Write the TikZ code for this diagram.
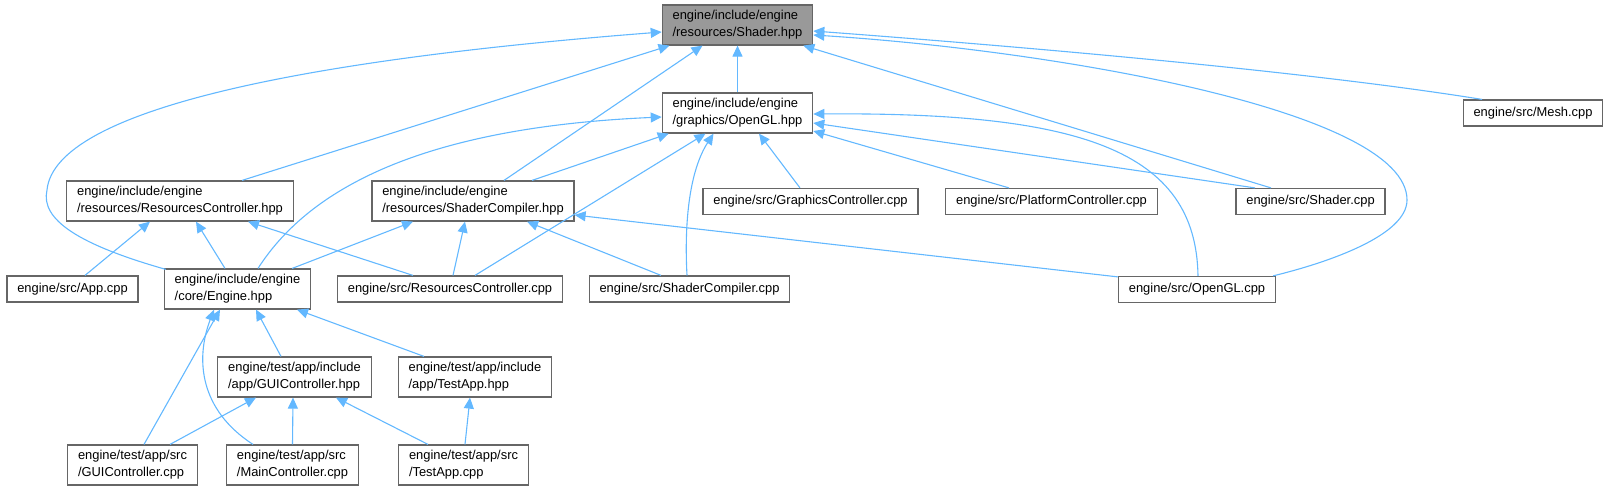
\documentclass[tikz,border=0pt]{standalone}
\usepackage{fontspec}
\setmainfont{Liberation Sans}
\usepackage{tikz}
\usetikzlibrary{arrows.meta,calc}
\definecolor{edgeblue}{HTML}{63B8FF}
\definecolor{boxline}{HTML}{666666}
\definecolor{curfill}{HTML}{999999}

\begin{document}
\begin{tikzpicture}[x=1pt,y=-1pt,
    file/.style={draw=boxline, line width=1.2pt, fill=white, align=left,
      font=\fontsize{12.9}{17}\selectfont, inner xsep=10.3pt, inner ysep=3pt,
      minimum height=26pt},
    twoline/.style={file, minimum height=40pt},
    dep/.style={draw=edgeblue, line width=1.1pt, -{Triangle[length=11pt,width=10pt]}}]
    \useasboundingbox (0,0) rectangle (1611,491);
    % Header under study
    \node[twoline, fill=curfill] (sh) at (737.5,25) {engine/include/engine\\/resources/Shader.hpp};
    % Second row
    \node[twoline] (ogl) at (737.5,113) {engine/include/engine\\/graphics/OpenGL.hpp};
    \node[file] (mesh) at (1533,113) {engine/src/Mesh.cpp};
    % Third row
    \node[twoline] (rch) at (180,201) {engine/include/engine\\/resources/ResourcesController.hpp};
    \node[twoline] (sch) at (473,201) {engine/include/engine\\/resources/ShaderCompiler.hpp};
    \node[file] (gfx) at (810.5,201.5) {engine/src/GraphicsController.cpp};
    \node[file] (plat) at (1051.5,201.5) {engine/src/PlatformController.cpp};
    \node[file] (shc) at (1310.5,201.5) {engine/src/Shader.cpp};
    % Fourth row
    \node[file] (app) at (72.5,289) {engine/src/App.cpp};
    \node[twoline] (eng) at (237.5,289) {engine/include/engine\\/core/Engine.hpp};
    \node[file] (rcc) at (450,289) {engine/src/ResourcesController.cpp};
    \node[file] (scc) at (689.5,289) {engine/src/ShaderCompiler.cpp};
    \node[file] (oglc) at (1197,289.5) {engine/src/OpenGL.cpp};
    % Test app headers
    \node[twoline] (guih) at (294.5,377) {engine/test/app/include\\/app/GUIController.hpp};
    \node[twoline] (tah) at (475,377) {engine/test/app/include\\/app/TestApp.hpp};
    % Test app sources
    \node[twoline] (guic) at (132.5,465) {engine/test/app/src\\/GUIController.cpp};
    \node[twoline] (mainc) at (292.5,465) {engine/test/app/src\\/MainController.cpp};
    \node[twoline] (tac) at (463.5,465) {engine/test/app/src\\/TestApp.cpp};

    % Includes of Shader.hpp
    \draw[dep] (ogl.north) -- (sh.south);
    \draw[dep] ($(rch.north)+(62,0)$) -- ($(sh.south)+(-68,0)$);
    \draw[dep] ($(sch.north)+(31,0)$) -- ($(sh.south)+(-35,0)$);
    \draw[dep] ($(eng.north west)+(2,1)$) .. controls (80,245) and (40,220) .. (47,190)
      .. controls (55,110) and (300,60) .. ($(sh.west)+(0,7)$);
    \draw[dep] ($(mesh.north)+(-51,0)$) .. controls (1300,70) and (1000,45) .. ($(sh.east)+(0,6)$);
    \draw[dep] ($(shc.north)+(-39.5,0)$) -- ($(sh.south east)+(-10,0)$);
    \draw[dep] ($(oglc.north east)+(-3,0)$) .. controls (1330,262) and (1407,235) .. (1407,200)
      .. controls (1407,110) and (1050,50) .. ($(sh.east)+(0,10)$);
    % Includes of OpenGL.hpp
    \draw[dep] ($(eng.north)+(20.5,0)$) .. controls (305,195) and (410,128) .. ($(ogl.west)+(0,4)$);
    \draw[dep] ($(sch.north)+(59,0)$) -- ($(ogl.south west)+(7,0)$);
    \draw[dep] ($(rcc.north)+(25,0)$) -- ($(ogl.south)+(-32,0)$);
    \draw[dep] ($(scc.north)+(-2.5,0)$) .. controls (684,220) and (690,170) .. ($(ogl.south)+(-24,0)$);
    \draw[dep] ($(gfx.north)+(-10.5,0)$) -- ($(ogl.south)+(21.5,0)$);
    \draw[dep] ($(plat.north)+(-42.5,0)$) -- ($(ogl.east)+(0,18)$);
    \draw[dep] ($(shc.north)+(-55.5,0)$) -- ($(ogl.east)+(0,10)$);
    \draw[dep] ($(oglc.north)+(1,0)$) .. controls (1196,150) and (1080,112) .. ($(ogl.east)+(0,1)$);
    % Includes of ResourcesController.hpp
    \draw[dep] ($(app.north)+(12.5,0)$) -- ($(rch.south)+(-30,0)$);
    \draw[dep] ($(eng.north)+(-12.5,0)$) -- ($(rch.south)+(16,0)$);
    \draw[dep] ($(rcc.north)+(-37,0)$) -- ($(rch.south)+(68,0)$);
    % Includes of ShaderCompiler.hpp
    \draw[dep] ($(eng.north east)+(-19,0)$) -- ($(sch.south)+(-60,0)$);
    \draw[dep] ($(rcc.north)+(3,0)$) -- ($(sch.south)+(-8,0)$);
    \draw[dep] ($(scc.north)+(-28.5,0)$) -- ($(sch.south)+(54,0)$);
    \draw[dep] ($(oglc.north west)+(0,1)$) -- ($(sch.east)+(0,14)$);
    % Includes of Engine.hpp
    \draw[dep] ($(guih.north)+(-13.5,0)$) -- ($(eng.south)+(18.5,0)$);
    \draw[dep] ($(tah.north)+(-51,0)$) -- ($(eng.south)+(59.5,0)$);
    \draw[dep] ($(guic.north)+(11.5,0)$) -- ($(eng.south)+(-17.5,0)$);
    \draw[dep] ($(mainc.north)+(-39.5,0)$) .. controls (200,410) and (195,360) .. ($(eng.south)+(-23.5,0)$);
    % Test app includes
    \draw[dep] ($(guic.north)+(37.5,0)$) -- ($(guih.south)+(-38.5,0)$);
    \draw[dep] (mainc.north) -- ($(guih.south)+(-1.5,0)$);
    \draw[dep] ($(tac.north)+(-35.5,0)$) -- ($(guih.south)+(41.5,0)$);
    \draw[dep] ($(tac.north)+(1.5,0)$) -- ($(tah.south)+(-5,0)$);
  \end{tikzpicture}
\end{document}
